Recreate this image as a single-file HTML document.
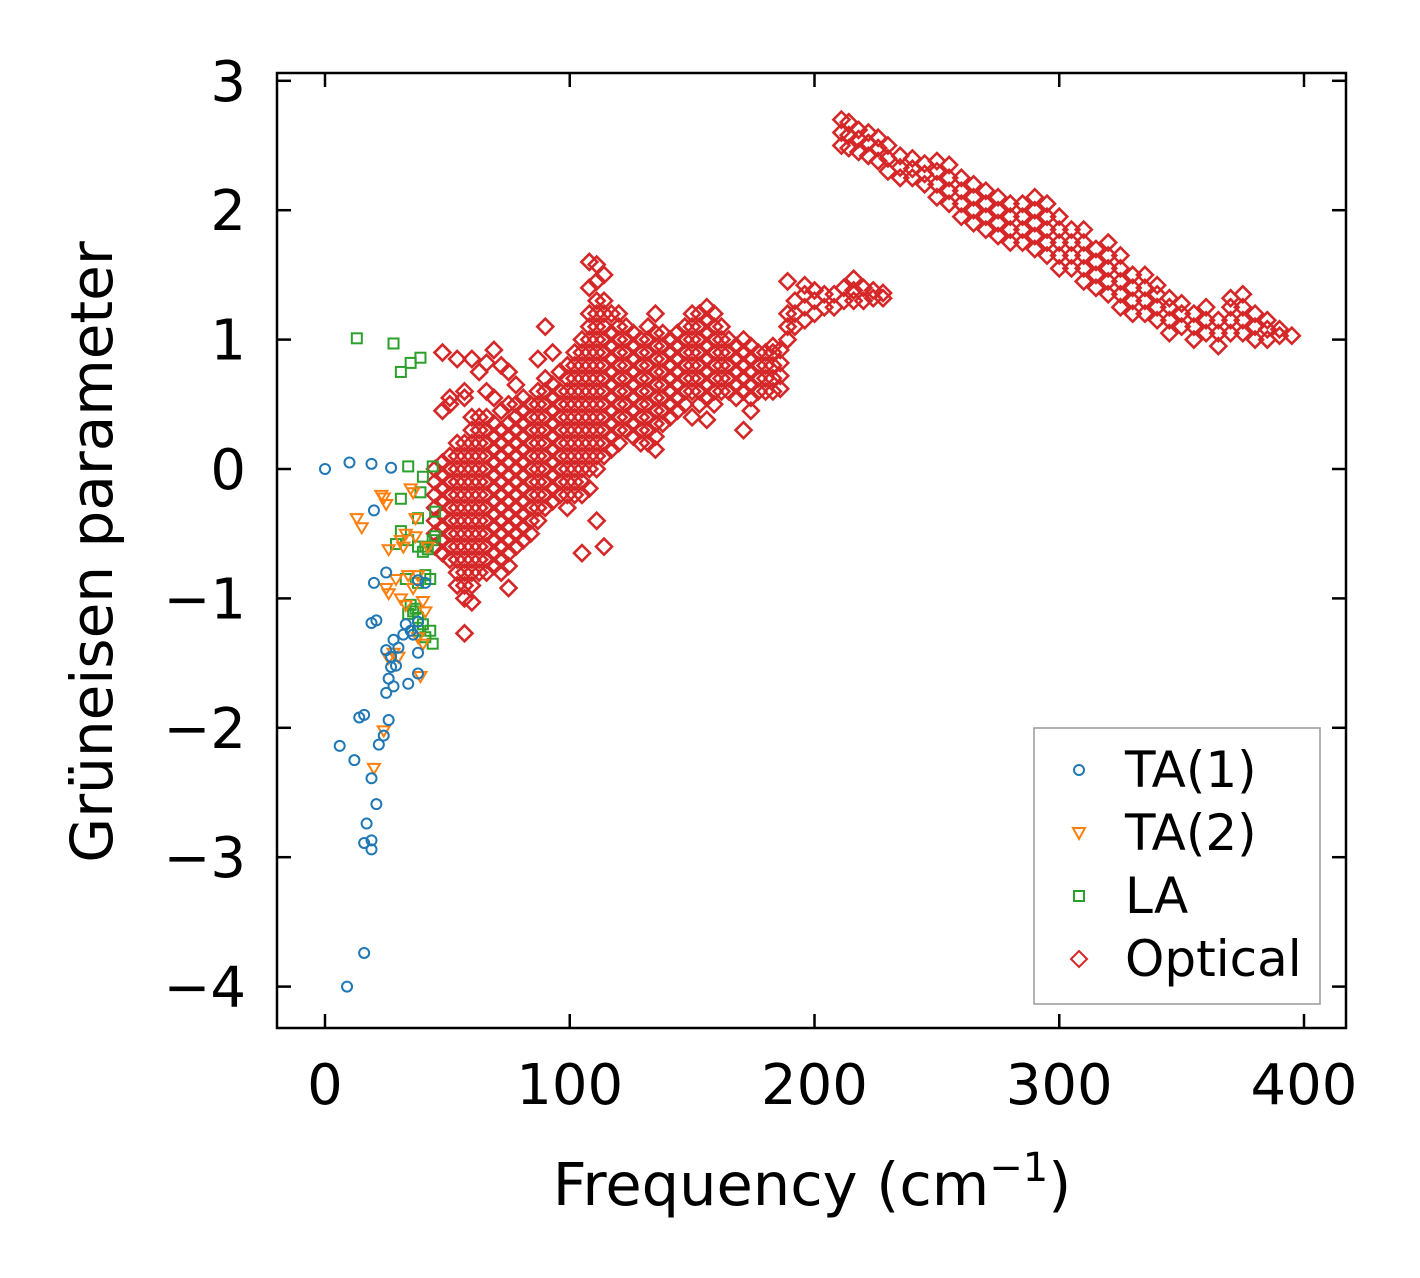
<!DOCTYPE html>
<html><head><meta charset="utf-8">
<style>
html,body{margin:0;padding:0;background:#fff;}
svg{display:block;font-family:"DejaVu Sans","Liberation Sans",sans-serif;}
</style></head>
<body>
<svg id="chart" width="1420" height="1278" viewBox="0 0 1420 1278" xmlns="http://www.w3.org/2000/svg">
<rect x="0" y="0" width="1420" height="1278" fill="#fff"/>
<g id="marks"></g>
<rect x="277" y="73" width="1069" height="955" fill="none" stroke="#000" stroke-width="2.5"/>
<g id="axes"></g>
<text x="812" y="1205" font-size="59" text-anchor="middle">Frequency (cm<tspan font-size="40" dy="-24">−1</tspan><tspan dy="24">)</tspan></text>
<text transform="translate(112,552) rotate(-90)" font-size="58" text-anchor="middle">Grüneisen parameter</text>
<g>
<rect x="1034" y="728" width="286" height="276" fill="#fff" stroke="#999" stroke-width="1.5"/>
<circle cx="1079" cy="770" r="5" fill="none" stroke="#1f77b4" stroke-width="2"/>
<text x="1125" y="787" font-size="50">TA(1)</text>
<path d="M1073 828 L1085 828 L1079 839 Z" fill="none" stroke="#ff7f0e" stroke-width="2"/>
<text x="1125" y="850" font-size="50">TA(2)</text>
<rect x="1074" y="891" width="10" height="10" fill="none" stroke="#2ca02c" stroke-width="2"/>
<text x="1125" y="913" font-size="50">LA</text>
<path d="M1079 951 L1087 959 L1079 967 L1071 959 Z" fill="none" stroke="#d62728" stroke-width="2"/>
<text x="1125" y="976" font-size="50">Optical</text>
</g>
</svg>
<script>
const xTicks=[0,100,200,300,400];
const yTicks=[3,2,1,0,-1,-2,-3,-4];
const yTickLabels=["3","2","1","0","−1","−2","−3","−4"];
const ta1F=[0,10,19,27,20,20,25,19,21,28,32,33,35,38,25,27,30,26,28,25,34,38,27,29,14,16,26,6,12,22,24,19,21,17,16,19,19,16,9,38,41,38,36];
const ta1G=[0,0.05,0.04,0.01,-0.32,-0.88,-0.8,-1.19,-1.17,-1.32,-1.28,-1.2,-1.25,-1.18,-1.4,-1.45,-1.38,-1.62,-1.68,-1.73,-1.66,-1.58,-1.53,-1.52,-1.92,-1.9,-1.94,-2.14,-2.25,-2.13,-2.06,-2.39,-2.59,-2.74,-2.89,-2.87,-2.94,-3.74,-4.0,-0.86,-0.88,-1.42,-1.28];
const ta2F=[13,15,23,24,25,26,31,32,33,37,35,36,34,29,38,36,25,26,31,33,40,41,38,40,26,28,30,39,24,20,37,42];
const ta2G=[-0.38,-0.45,-0.2,-0.22,-0.27,-0.62,-0.55,-0.6,-0.5,-0.52,-0.15,-0.18,-0.82,-0.85,-0.82,-0.92,-0.92,-0.96,-1.0,-1.05,-1.02,-1.1,-1.3,-1.35,-1.46,-1.42,-1.45,-1.6,-2.02,-2.31,-0.38,-0.6];
const laF=[13,28,31,35,39,34,40,44,31,39,45,38,31,34,29,38,41,44,45,42,40,33,38,41,43,35,36,38,40,43,44,41,38,34,37];
const laG=[1.01,0.97,0.75,0.82,0.86,0.02,-0.06,0.02,-0.23,-0.18,-0.33,-0.38,-0.48,-0.55,-0.58,-0.6,-0.6,-0.55,-0.52,-0.62,-0.64,-0.85,-0.88,-0.82,-0.85,-1.05,-1.1,-1.15,-1.2,-1.25,-1.35,-1.3,-1.25,-1.12,-1.08];
const optF=[45,48,51,54,57,60,63,66,69,72,75,78,81,84,87,90,93,96,99,102,105,108,111,114,117,120,123,126,129,132,135,138,141,144,147,150,153,156,159,162,165,168,171,174,177,180,183,186,189,192,196,200,204,208,212,216,220,224,228,
 211,214,218,222,226,230,235,240,245,250,255,260,265,270,275,280,285,290,295,300,305,310,315,320,325,330,335,340,345,350,355,360,365,370,375,380,385,390,395,398];
const optG=[
[-0.6,-0.5,-0.4,-0.3,-0.2,-0.1,0.0],
[-0.65,-0.55,-0.45,-0.35,-0.25,-0.15,-0.05,0.05,0.45,0.9],
[-0.7,-0.6,-0.5,-0.4,-0.3,-0.2,-0.1,0.0,0.1,0.5,0.55],
[-0.9,-0.8,-0.7,-0.6,-0.5,-0.4,-0.3,-0.2,-0.1,0.0,0.1,0.2,0.85],
[-1.27,-1.0,-0.9,-0.8,-0.7,-0.6,-0.5,-0.4,-0.3,-0.2,-0.1,0.0,0.1,0.2,0.55,0.6],
[-1.03,-0.9,-0.8,-0.7,-0.6,-0.5,-0.4,-0.3,-0.2,-0.1,0.0,0.1,0.2,0.3,0.4,0.85],
[-0.8,-0.7,-0.6,-0.5,-0.4,-0.3,-0.2,-0.1,0.0,0.1,0.2,0.3,0.4,0.75],
[-0.8,-0.7,-0.6,-0.5,-0.4,-0.3,-0.2,-0.1,0.0,0.1,0.2,0.3,0.4,0.6,0.82],
[-0.75,-0.65,-0.55,-0.45,-0.35,-0.25,-0.15,-0.05,0.05,0.15,0.25,0.35,0.55,0.92],
[-0.8,-0.7,-0.6,-0.5,-0.4,-0.3,-0.2,-0.1,0.0,0.1,0.2,0.3,0.45,0.8],
[-0.92,-0.75,-0.65,-0.55,-0.45,-0.35,-0.25,-0.15,-0.05,0.05,0.15,0.25,0.35,0.5,0.75],
[-0.6,-0.5,-0.4,-0.3,-0.2,-0.1,0.0,0.1,0.2,0.3,0.4,0.5,0.65],
[-0.55,-0.45,-0.35,-0.25,-0.15,-0.05,0.05,0.15,0.25,0.35,0.45,0.55],
[-0.5,-0.4,-0.3,-0.2,-0.1,0.0,0.1,0.2,0.3,0.4,0.5],
[-0.4,-0.3,-0.2,-0.1,0.0,0.1,0.2,0.3,0.4,0.5,0.6,0.85],
[-0.3,-0.2,-0.1,0.0,0.1,0.2,0.3,0.4,0.5,0.6,0.7,1.1],
[-0.25,-0.15,-0.05,0.05,0.15,0.25,0.35,0.45,0.55,0.65,0.9],
[-0.2,-0.1,0.0,0.1,0.2,0.3,0.4,0.5,0.6,0.75],
[-0.3,-0.2,-0.1,0.0,0.1,0.2,0.3,0.4,0.5,0.6,0.7,0.8],
[-0.2,-0.1,0.0,0.1,0.2,0.3,0.4,0.5,0.6,0.7,0.8,0.9],
[-0.65,-0.2,-0.1,0.0,0.1,0.2,0.3,0.4,0.5,0.6,0.7,0.8,0.9,1.0],
[-0.15,0.0,0.1,0.2,0.3,0.4,0.5,0.6,0.7,0.8,0.9,1.0,1.1,1.2,1.4,1.6],
[-0.4,0.0,0.1,0.2,0.3,0.4,0.5,0.6,0.7,0.8,0.9,1.0,1.1,1.2,1.3,1.45,1.58],
[-0.6,0.1,0.2,0.3,0.4,0.5,0.6,0.7,0.8,0.9,1.0,1.1,1.2,1.3,1.5],
[0.15,0.25,0.35,0.45,0.55,0.65,0.75,0.85,0.95,1.05,1.2],
[0.2,0.3,0.4,0.5,0.6,0.7,0.8,0.9,1.0,1.1,1.2],
[0.3,0.4,0.5,0.6,0.7,0.8,0.9,1.0,1.1],
[0.25,0.35,0.45,0.55,0.65,0.75,0.85,0.95,1.05],
[0.2,0.3,0.4,0.5,0.6,0.7,0.8,0.9,1.0],
[0.2,0.3,0.4,0.5,0.6,0.7,0.8,0.9,1.0,1.1],
[0.15,0.25,0.35,0.45,0.55,0.65,0.75,0.85,0.95,1.05,1.2],
[0.35,0.45,0.55,0.65,0.75,0.85,0.95,1.05],
[0.4,0.5,0.6,0.7,0.8,0.9,1.0],
[0.45,0.55,0.65,0.75,0.85,0.95,1.05],
[0.5,0.6,0.7,0.8,0.9,1.0,1.1],
[0.4,0.6,0.7,0.8,0.9,1.0,1.1,1.2],
[0.5,0.6,0.7,0.8,0.9,1.0,1.1,1.2],
[0.38,0.55,0.65,0.75,0.85,0.95,1.05,1.15,1.25],
[0.5,0.6,0.7,0.8,0.9,1.0,1.1,1.2],
[0.6,0.7,0.8,0.9,1.0,1.1],
[0.6,0.7,0.8,0.9,1.0],
[0.55,0.65,0.75,0.85,0.95],
[0.3,0.6,0.7,0.8,0.9,1.0],
[0.45,0.55,0.65,0.75,0.85,0.95],
[0.6,0.7,0.8,0.9],
[0.6,0.7,0.8,0.9],
[0.6,0.7,0.8,0.9,0.95],
[0.62,0.72,0.82,0.92],
[1.0,1.1,1.2,1.45],
[1.1,1.2,1.3],
[1.15,1.25,1.35,1.42],
[1.2,1.3,1.38],
[1.25,1.35],
[1.25,1.35],
[1.3,1.4],
[1.3,1.38,1.47],
[1.3,1.4],
[1.32,1.38],
[1.32,1.36],
[2.5,2.6,2.7],
[2.48,2.58,2.68],
[2.45,2.55,2.62],
[2.42,2.52,2.6],
[2.38,2.48,2.56],
[2.3,2.4,2.5],
[2.25,2.33,2.42],
[2.25,2.32,2.4],
[2.2,2.28,2.36],
[2.1,2.2,2.3,2.38],
[2.05,2.15,2.25,2.35],
[1.95,2.05,2.15,2.25],
[1.9,2.0,2.1,2.2],
[1.85,1.95,2.05,2.15],
[1.8,1.9,2.0,2.1],
[1.75,1.85,1.95,2.05],
[1.75,1.85,1.95,2.05],
[1.7,1.8,1.9,2.0,2.1],
[1.65,1.75,1.85,1.95,2.05],
[1.55,1.65,1.75,1.85,1.95],
[1.55,1.65,1.75,1.85],
[1.45,1.55,1.65,1.75,1.85],
[1.4,1.5,1.6,1.7],
[1.35,1.45,1.55,1.65,1.75],
[1.25,1.35,1.45,1.55,1.65],
[1.2,1.3,1.4,1.5],
[1.2,1.3,1.4,1.5],
[1.15,1.25,1.35,1.42],
[1.05,1.15,1.25,1.32],
[1.1,1.2,1.28],
[1.0,1.1,1.2],
[1.05,1.15,1.25],
[0.95,1.05,1.15],
[1.05,1.15,1.25,1.32],
[1.05,1.15,1.25,1.35],
[1.0,1.1,1.2],
[1.0,1.08,1.15],
[1.03,1.08],
[1.03]
];
const NS="http://www.w3.org/2000/svg";
const X0=277,X1=1346,Y0=73,Y1=1028;
function xs(f){return 325+f*2.4475;}
function ys(g){return 469-g*129.4;}
const marks=document.getElementById('marks');
const axes=document.getElementById('axes');
function mk(tag,attrs,parent){const e=document.createElementNS(NS,tag);for(const k in attrs)e.setAttribute(k,attrs[k]);parent.appendChild(e);return e;}
xTicks.forEach((t,i)=>{
  const x=xs(t);
  const a=mk('line',{x1:x,x2:x,y1:Y1,y2:Y1-14,stroke:'#000','stroke-width':2.5},axes);
  
  
  const b=mk('line',{x1:x,x2:x,y1:Y0,y2:Y0+14,stroke:'#000','stroke-width':2.5},axes);
  
  
  const tx=mk('text',{x:x,y:1104,'font-size':56,'text-anchor':'middle'},axes);
  tx.textContent=String(t);
  
  
});
yTicks.forEach((t,i)=>{
  const y=ys(t);
  const a=mk('line',{x1:X0,x2:X0+14,y1:y,y2:y,stroke:'#000','stroke-width':2.5},axes);
  
  
  const b=mk('line',{x1:X1,x2:X1-14,y1:y,y2:y,stroke:'#000','stroke-width':2.5},axes);
  
  
  const tx=mk('text',{x:246,y:y+20,'font-size':56,'text-anchor':'end'},axes);
  tx.textContent=yTickLabels[i];
  
  
});
const nOpt=Math.min(optF.length,optG.length);
for(let i=0;i<nOpt;i++){
  const f=optF[i];
  optG[i].forEach(g=>{
    const x=xs(f),y=ys(g);
    const p=mk('path',{d:`M${x} ${y-8} L${x+8} ${y} L${x} ${y+8} L${x-8} ${y} Z`,fill:'none',stroke:'#d62728','stroke-width':2.6},marks);
    
    
  });
}
laF.forEach((f,i)=>{
  const x=xs(f),y=ys(laG[i]);
  const r=mk('rect',{x:x-5,y:y-5,width:10,height:10,fill:'none',stroke:'#2ca02c','stroke-width':2},marks);
  
  
});
ta2F.forEach((f,i)=>{
  const x=xs(f),y=ys(ta2G[i]);
  const p=mk('path',{d:`M${x-6} ${y-4} L${x+6} ${y-4} L${x} ${y+6} Z`,fill:'none',stroke:'#ff7f0e','stroke-width':2},marks);
  
  
});
ta1F.forEach((f,i)=>{
  const c=mk('circle',{cx:xs(f),cy:ys(ta1G[i]),r:5,fill:'none',stroke:'#1f77b4','stroke-width':2},marks);
  
  
});
</script>
</body></html>
